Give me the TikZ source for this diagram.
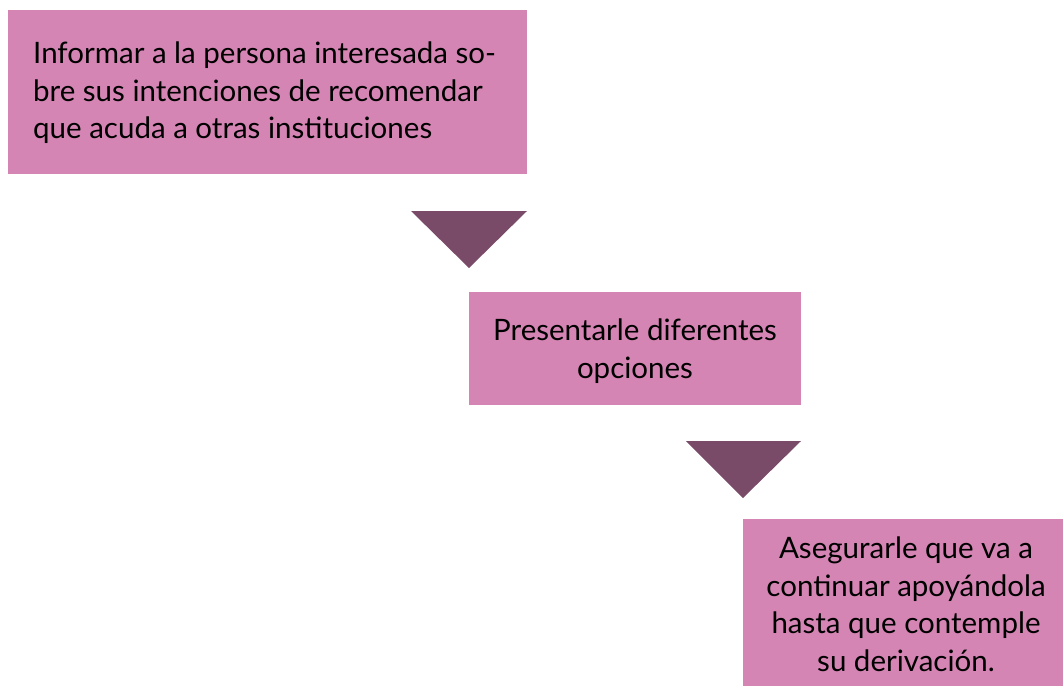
\documentclass[tikz,border=0pt]{standalone}
\usepackage{fontspec}
\setmainfont{Lato}
\definecolor{boxpink}{RGB}{213,133,180}
\definecolor{tripurple}{RGB}{122,75,105}
\begin{document}
\begin{tikzpicture}[x=1pt,y=-1pt,
  txt/.style={inner sep=0pt, font=\fontsize{29.5}{37.5}\selectfont},
  tri/.style={fill=tripurple, draw=none}]
\useasboundingbox (0,0) rectangle (1063,686);
% box 1
\fill[boxpink] (8,10) rectangle (527,174);
\node[txt, anchor=west, align=left] (t1) at (33,93)
  {Informar a la persona interesada so-\\bre sus intenciones de recomendar\\que acuda a otras instituciones};
% box 2
\fill[boxpink] (469,292) rectangle (801,405);
\node[txt, align=center] (t2) at (635,351)
  {Presentarle diferentes\\opciones};
% box 3
\fill[boxpink] (743,519) rectangle (1063,686);
\node[txt, align=center] (t3) at (906,604)
  {Asegurarle que va a\\continuar apoyándola\\hasta que contemple\\su derivación.};
% triangles
\fill[tri] (411,211) -- (527,211) -- (469,268) -- cycle;
\fill[tri] (686,441) -- (801,441) -- (743,498) -- cycle;
\end{tikzpicture}
\end{document}
